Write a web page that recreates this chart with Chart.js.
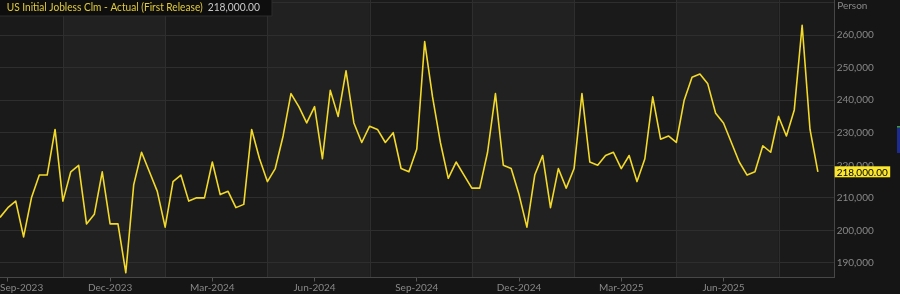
<!DOCTYPE html>
<html><head><meta charset="utf-8">
<script src="https://cdn.jsdelivr.net/npm/chart.js@4.4.1/dist/chart.umd.min.js"></script>
<style>html,body{margin:0;padding:0;background:#151515;overflow:hidden}</style>
</head><body>
<canvas id="c" width="900" height="294"></canvas>
<script>
// ---- data ----
const seriesName = 'US Initial Jobless Clm - Actual (First Release)';
const unitLabel = 'Person';
const startDate = '2023-09-23'; // week ending of first observation, weekly series
const claims = [
  204000, 207000, 209000, 198000, 210000, 217000, 217000, 231000, 209000, 218000,
  220000, 202000, 205000, 218000, 202000, 202000, 187000, 214000, 224000, 218000,
  212000, 201000, 215000, 217000, 209000, 210000, 210000, 221000, 211000, 212000,
  207000, 208000, 231000, 222000, 215000, 219000, 229000, 242000, 238000, 233000,
  238000, 222000, 243000, 235000, 249000, 233000, 227000, 232000, 231000, 227000,
  230000, 219000, 218000, 225000, 258000, 241000, 227000, 216000, 221000, 217000,
  213000, 213000, 224000, 242000, 220000, 219000, 211000, 201000, 217000, 223000,
  207000, 219000, 213000, 219000, 242000, 221000, 220000, 223000, 224000, 219000,
  223000, 215000, 222000, 241000, 228000, 229000, 227000, 240000, 247000, 248000,
  245000, 236000, 233000, 227000, 221000, 217000, 218000, 226000, 224000, 235000,
  229000, 237000, 263000, 231000, 218000
];
const tickDates  = ['2023-09-30','2023-12-30','2024-03-30','2024-06-29','2024-09-28','2024-12-28','2025-03-29','2025-06-28'];
const tickLabels = ['Sep-2023','Dec-2023','Mar-2024','Jun-2024','Sep-2024','Dec-2024','Mar-2025','Jun-2025'];
const bandDates  = ['2023-11-18','2024-02-17','2024-05-18','2024-08-17','2024-11-16','2025-02-15','2025-05-17','2025-08-16'];
const yTicks = [190000, 200000, 210000, 220000, 230000, 240000, 250000, 260000, 270000];

// ---- helpers ----
const weekIndex = d => (Date.parse(d) - Date.parse(startDate)) / (7 * 864e5);
const fmt0 = v => v.toLocaleString('en-US');
const fmt2 = v => v.toLocaleString('en-US', {minimumFractionDigits: 2, maximumFractionDigits: 2});

Chart.defaults.font.family = 'Lato, "Liberation Sans", sans-serif';
Chart.defaults.font.size = 10;

const deco = {
  id: 'deco',
  beforeDraw(chart) {
    const {ctx, chartArea: a, scales: {x}} = chart;
    ctx.save();
    ctx.fillStyle = '#151515';
    ctx.fillRect(0, 0, chart.width, chart.height);
    ctx.fillStyle = '#1a1a1a';
    ctx.fillRect(a.left, a.top, a.width, a.height);
    ctx.fillStyle = '#212121';
    for (let k = 0; k + 1 < bandDates.length; k += 2) {
      const x1 = x.getPixelForValue(weekIndex(bandDates[k]));
      const x2 = x.getPixelForValue(weekIndex(bandDates[k + 1]));
      ctx.fillRect(x1, a.top, x2 - x1, a.height);
    }
    ctx.strokeStyle = '#2e2e2e';
    ctx.lineWidth = 1;
    bandDates.forEach(d => {
      const px = Math.round(x.getPixelForValue(weekIndex(d))) + 0.5;
      ctx.beginPath(); ctx.moveTo(px, a.top); ctx.lineTo(px, a.bottom); ctx.stroke();
    });
    ctx.restore();
  },
  afterDraw(chart) {
    const {ctx, chartArea: a, scales: {x, y}} = chart;
    ctx.save();
    // x labels (clamped to canvas)
    ctx.font = '10px Lato, "Liberation Sans", sans-serif';
    ctx.fillStyle = '#888888';
    ctx.textBaseline = 'middle';
    ctx.textAlign = 'left';
    tickDates.forEach((d, i) => {
      const px = x.getPixelForValue(weekIndex(d));
      const w = ctx.measureText(tickLabels[i]).width;
      let l = px - w / 2;
      if (l < 0) l = 0;
      ctx.fillText(tickLabels[i], l, 287.5);
    });
    // unit label
    ctx.fillText(unitLabel, a.right + 2.5, 5.5);
    // last value box
    const last = claims[claims.length - 1];
    const py = y.getPixelForValue(last);
    ctx.fillStyle = '#fbe62e';
    ctx.fillRect(a.right, py - 5.5, 55.5, 11);
    ctx.fillStyle = '#000';
    ctx.fillText(fmt2(last), a.right + 2, py + 0.5);
    // legend box
    ctx.fillStyle = '#0e0e0e';
    ctx.fillRect(0, 0, 272, 16);
    ctx.strokeStyle = '#2c2c2c';
    ctx.strokeRect(-0.5, -0.5, 272.5, 16.5);
    ctx.font = '10.5px Lato, "Liberation Sans", sans-serif';
    const drawFit = (txt, left, width, color) => {
      const w = ctx.measureText(txt).width;
      ctx.save();
      ctx.translate(left, 8);
      ctx.scale(width / w, 1);
      ctx.fillStyle = color;
      ctx.fillText(txt, 0, 0);
      ctx.restore();
    };
    drawFit(seriesName, 6.7, 196, '#e2cb3a');
    drawFit(fmt2(last), 207.7, 52.3, '#c8c8c8');
    // cut-off widget at right edge
    ctx.fillStyle = '#1d2c8c';
    ctx.fillRect(897, 127, 3, 26);
    ctx.fillStyle = '#3d9b3d';
    ctx.fillRect(897, 126, 3, 1.5);
    ctx.restore();
  }
};

new Chart(document.getElementById('c'), {
  type: 'line',
  data: {
    datasets: [{
      label: seriesName,
      data: claims.map((v, i) => ({x: i, y: v})),
      borderColor: '#f2d92a',
      borderWidth: 1.6,
      borderJoinStyle: 'round',
      pointRadius: 0,
      tension: 0,
      fill: false
    }]
  },
  options: {
    responsive: false,
    animation: false,
    devicePixelRatio: 1,
    layout: {padding: 0},
    plugins: {legend: {display: false}, tooltip: {enabled: false}},
    scales: {
      x: {
        type: 'linear', min: 0, max: 106.14,
        afterBuildTicks: s => { s.ticks = tickDates.map(d => ({value: weekIndex(d)})); },
        afterFit: s => { s.height = 16.5; s.paddingLeft = 0; s.paddingRight = 0; },
        ticks: {display: false},
        grid: {drawOnChartArea: false, drawTicks: true, tickLength: 4, color: '#555555'},
        border: {display: true, color: '#474747', width: 1}
      },
      y: {
        type: 'linear', position: 'right', min: 185548, max: 270746,
        afterBuildTicks: s => { s.ticks = yTicks.map(v => ({value: v})); },
        afterFit: s => { s.width = 65.3; s.paddingTop = 0; s.paddingBottom = 0; },
        ticks: {color: '#888888', font: {size: 10}, padding: 2,
                callback: v => (v > 265000 ? '' : fmt0(v))},
        grid: {color: '#2e2e2e', drawTicks: false, lineWidth: 1},
        border: {display: true, color: '#474747', width: 1}
      }
    }
  },
  plugins: [deco]
});
</script>
</body></html>
